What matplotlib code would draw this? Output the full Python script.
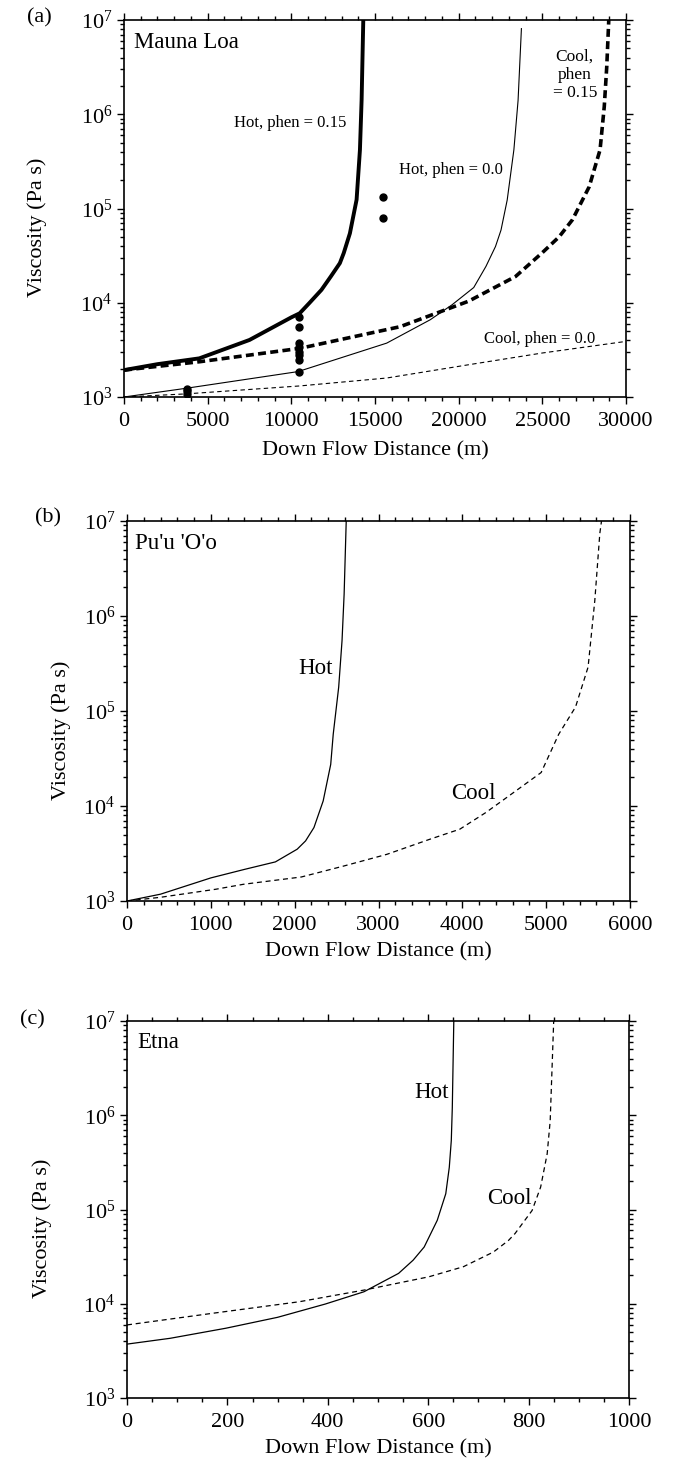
import matplotlib
matplotlib.use("Agg")
import matplotlib.pyplot as plt
from matplotlib.ticker import LogLocator, LogFormatterMathtext, MultipleLocator, NullFormatter

plt.rcParams['font.family'] = ['Liberation Serif', 'DejaVu Serif']
plt.rcParams['mathtext.fontset'] = 'custom'
plt.rcParams['mathtext.rm'] = 'Liberation Serif'
plt.rcParams['mathtext.default'] = 'regular'

# (a) Mauna Loa
ml_hot15_x = [0, 2000, 4500, 7500, 10000, 10500, 11070, 11800, 12360, 12900, 13130, 13500, 13900, 14100, 14200, 14300]
ml_hot15_y = [1930, 2230, 2570, 4030, 7000, 7730, 9900, 13700, 19000, 26300, 33600, 54500, 1.24e5, 4.2e5, 1.42e6, 1e7]
ml_hot0_x = [0, 3750, 10400, 15700, 18300, 19600, 20900, 21630, 22200, 22530, 22900, 23300, 23550, 23750]
ml_hot0_y = [1000, 1240, 1860, 3730, 6600, 9500, 14500, 24300, 39500, 59000, 1.23e5, 4.2e5, 1.4e6, 8.1e6]
ml_cool15_x = [0, 4540, 10500, 16500, 20600, 23400, 25000, 26000, 26800, 27800, 28450, 28700, 28850, 28970]
ml_cool15_y = [1930, 2370, 3280, 5570, 10400, 19000, 34000, 50000, 76000, 1.7e5, 4.2e5, 1.2e6, 3.2e6, 1e7]
ml_cool0_x = [0, 3750, 10500, 15700, 20600, 25000, 30000]
ml_cool0_y = [1000, 1080, 1310, 1590, 2200, 2930, 3890]
ml_obs_x = [3750, 3750, 3750, 10450, 10450, 10450, 10450, 10450, 10450, 10450, 10450, 15450, 15450]
ml_obs_y = [1080, 1150, 1220, 7110, 5570, 3720, 3410, 3030, 2790, 2470, 1850, 1.31e5, 7.9e4]

# (b) Pu'u 'O'o
pu_hot_x = [0, 400, 1000, 1400, 1770, 2030, 2130, 2230, 2340, 2430, 2460, 2525, 2565, 2590, 2615]
pu_hot_y = [1000, 1180, 1750, 2150, 2580, 3510, 4290, 5930, 11300, 27400, 57000, 1.78e5, 5.5e5, 1.7e6, 1e7]
pu_cool_x = [0, 400, 1060, 1390, 2080, 2590, 3100, 3610, 3970, 4280, 4530, 4940, 5150, 5350, 5500, 5580, 5640, 5660]
pu_cool_y = [1000, 1094, 1330, 1500, 1790, 2340, 3100, 4460, 5700, 8530, 12300, 22500, 57000, 1.1e5, 2.9e5, 1.45e6, 7.4e6, 1e7]

# (c) Etna
et_hot_x = [0, 86, 197, 300, 395, 472, 541, 570, 592, 618, 635, 642, 646, 648, 651]
et_hot_y = [3730, 4300, 5500, 7180, 9930, 13400, 21000, 29000, 40000, 76700, 1.47e5, 2.8e5, 5.4e5, 1.2e6, 1e7]
et_cool_x = [0, 172, 343, 472, 601, 670, 730, 760, 773, 807, 824, 837, 843, 847, 850]
et_cool_y = [5960, 7940, 10500, 13960, 19300, 24700, 35400, 47000, 55600, 97700, 1.73e5, 3.9e5, 8.7e5, 3.5e6, 1e7]

W, H = 674, 1464
fig = plt.figure(figsize=(W / 100, H / 100), dpi=100)


def make_axes(left, top, right, bottom, xmax, major, minor, ylab_x, xlab_y):
    ax = fig.add_axes([left / W, 1 - bottom / H, (right - left) / W, (bottom - top) / H])
    ax.set_yscale('log')
    ax.set_xlim(0, xmax)
    ax.set_ylim(1e3, 1e7)
    ax.xaxis.set_major_locator(MultipleLocator(major))
    ax.xaxis.set_minor_locator(MultipleLocator(minor))
    ax.yaxis.set_major_locator(LogLocator(base=10))
    ax.yaxis.set_major_formatter(LogFormatterMathtext())
    ax.yaxis.set_minor_locator(LogLocator(base=10, subs=range(2, 10)))
    ax.yaxis.set_minor_formatter(NullFormatter())
    ax.tick_params(which='both', direction='out', top=True, right=True, labelsize=16, width=1.0)
    ax.tick_params(which='major', length=5)
    ax.tick_params(axis='x', which='major', pad=6)
    ax.tick_params(which='minor', length=3)
    for s in ax.spines.values():
        s.set_linewidth(1.2)
    ax.set_xlabel('Down Flow Distance (m)', fontsize=16)
    ax.set_ylabel('Viscosity (Pa s)', fontsize=16)
    ax.xaxis.set_label_coords(0.5, xlab_y)
    ax.yaxis.set_label_coords(ylab_x, 0.45)
    return ax


# panel (a)
ax = make_axes(124, 20, 626, 397, 30000, 5000, 1000, -0.153, -0.117)
ax.plot(ml_hot15_x, ml_hot15_y, color='black', lw=2.8)
ax.plot(ml_hot0_x, ml_hot0_y, color='black', lw=0.8)
ax.plot(ml_cool15_x, ml_cool15_y, color='black', lw=2.6, dashes=(2.2, 1.2))
ax.plot(ml_cool0_x, ml_cool0_y, color='black', lw=0.8, dashes=(4, 3))
ax.plot(ml_obs_x, ml_obs_y, 'o', color='black', ms=5)
ax.text(0.02, 0.94, 'Mauna Loa', transform=ax.transAxes, fontsize=16.5, va='center')
ax.text(0.219, 0.727, 'Hot, phen = 0.15', transform=ax.transAxes, fontsize=12, va='center')
ax.text(0.548, 0.602, 'Hot, phen = 0.0', transform=ax.transAxes, fontsize=12, va='center')
ax.text(0.717, 0.154, 'Cool, phen = 0.0', transform=ax.transAxes, fontsize=12, va='center')
ax.text(0.898, 0.855, 'Cool,\nphen\n= 0.15', transform=ax.transAxes, fontsize=12.5,
        va='center', ha='center', linespacing=1.2)
fig.text(39 / W, 1 - 18 / H, '(a)', fontsize=16, ha='center', va='center')

# panel (b)
ax = make_axes(127, 521, 630, 901, 6000, 1000, 200, -0.111, -0.108)
ax.plot(pu_hot_x, pu_hot_y, color='black', lw=0.9)
ax.plot(pu_cool_x, pu_cool_y, color='black', lw=0.9, dashes=(4, 3))
ax.text(0.016, 0.942, "Pu'u 'O'o", transform=ax.transAxes, fontsize=16.5, va='center')
ax.text(0.374, 0.613, 'Hot', transform=ax.transAxes, fontsize=16.5, va='center', ha='center')
ax.text(0.688, 0.284, 'Cool', transform=ax.transAxes, fontsize=16.5, va='center', ha='center')
fig.text(48 / W, 1 - 518 / H, '(b)', fontsize=16, ha='center', va='center')

# panel (c)
ax = make_axes(127, 1021, 629, 1398, 1000, 200, 50, -0.149, -0.109)
ax.plot(et_hot_x, et_hot_y, color='black', lw=0.9)
ax.plot(et_cool_x, et_cool_y, color='black', lw=0.9, dashes=(4, 3))
ax.text(0.02, 0.942, 'Etna', transform=ax.transAxes, fontsize=16.5, va='center')
ax.text(0.606, 0.81, 'Hot', transform=ax.transAxes, fontsize=16.5, va='center', ha='center')
ax.text(0.761, 0.53, 'Cool', transform=ax.transAxes, fontsize=16.5, va='center', ha='center')
fig.text(32 / W, 1 - 1020 / H, '(c)', fontsize=16, ha='center', va='center')

fig.savefig('out.png', dpi=100)
